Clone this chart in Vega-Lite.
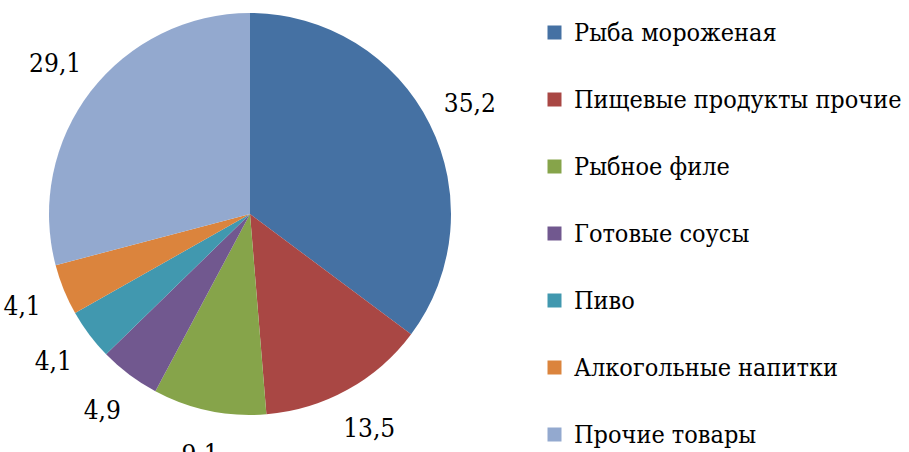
{
  "$schema": "https://vega.github.io/schema/vega-lite/v6.json",
  "autosize": {"type": "none"},
  "width": 500,
  "height": 428,
  "padding": {"left": 0, "top": 0, "right": 409, "bottom": 24},
  "background": "white",
  "config": {"view": {"stroke": null}},
  "data": {
    "values": [
      {"idx": 1, "category": "Рыба мороженая", "value": 35.2, "label": "35,2"},
      {"idx": 2, "category": "Пищевые продукты прочие", "value": 13.5, "label": "13,5"},
      {"idx": 3, "category": "Рыбное филе", "value": 9.1, "label": "9,1"},
      {"idx": 4, "category": "Готовые соусы", "value": 4.9, "label": "4,9"},
      {"idx": 5, "category": "Пиво", "value": 4.1, "label": "4,1"},
      {"idx": 6, "category": "Алкогольные напитки", "value": 4.1, "label": "4,1"},
      {"idx": 7, "category": "Прочие товары", "value": 29.1, "label": "29,1"}
    ]
  },
  "encoding": {
    "theta": {"field": "value", "type": "quantitative", "stack": true},
    "order": {"field": "idx", "type": "quantitative"},
    "color": {
      "field": "category",
      "type": "nominal",
      "scale": {
        "domain": ["Рыба мороженая", "Пищевые продукты прочие", "Рыбное филе", "Готовые соусы", "Пиво", "Алкогольные напитки", "Прочие товары"],
        "range": ["#4571A3", "#A94744", "#86A44A", "#71588F", "#4198AF", "#DB843D", "#93A9CF"]
      },
      "legend": {
        "title": null,
        "orient": "none",
        "legendX": 542,
        "legendY": 20,
        "symbolType": "square",
        "symbolSize": 196,
        "symbolStrokeWidth": 0,
        "labelFont": "DejaVu Serif Condensed",
        "labelFontSize": 25,
        "labelColor": "black",
        "labelOffset": 7,
        "labelLimit": 400,
        "rowPadding": 41,
        "padding": 0
      }
    }
  },
  "layer": [
    {"mark": {"type": "arc", "outerRadius": 201, "stroke": null}},
    {
      "mark": {"type": "text", "radius": 246, "font": "DejaVu Serif Condensed", "fontSize": 26, "color": "black"},
      "encoding": {"text": {"field": "label", "type": "nominal"}, "color": {"value": "black"}}
    }
  ]
}
